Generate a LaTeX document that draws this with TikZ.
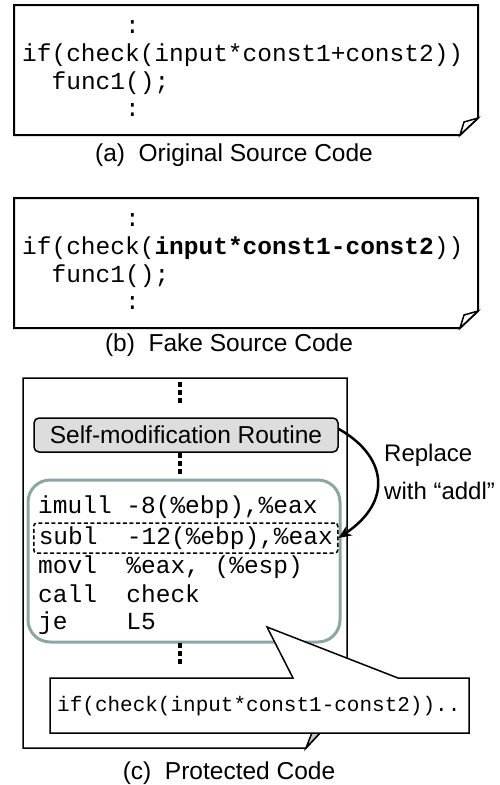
\documentclass[tikz,border=0pt]{standalone}
\usepackage{fontspec}
\setmainfont{Liberation Sans}
\newfontfamily\codefont{Liberation Mono}
\usetikzlibrary{arrows.meta}
\definecolor{tealgray}{RGB}{140,166,168}
\definecolor{routinegray}{RGB}{221,221,221}
\definecolor{foldgray}{RGB}{200,200,200}

\begin{document}
\begin{tikzpicture}[x=1pt,y=-1pt,
    code/.style={font=\codefont\fontsize{24.5}{27.7}\selectfont,inner sep=0pt,anchor=west,align=left},
    caption/.style={font=\fontsize{24.5}{28}\selectfont,inner sep=0pt},
    page/.style={line width=2pt,fill=white},
    dots/.style={line width=4.5pt,dash pattern=on 5pt off 3pt}]
    \useasboundingbox (0,0) rectangle (499,785);

    % (a)
    \draw[page] (14,5) -- (478,5) -- (478,118) -- (460,135) -- (14,135) -- cycle;
    \draw[line width=1.5pt,fill=white] (478,118) -- (464,122) -- (460,135) -- cycle;
    \node[code] (srcA) at (22,69) {\phantom{if(chec}:\\if(check(input*const1+const2))\\\phantom{if}func1();\\\phantom{if(chec}:};
    \node[caption] (capA) at (234,155) {(a)\ \ Original Source Code};

    % (b)
    \draw[page] (14,198) -- (478,198) -- (478,311) -- (460,328) -- (14,328) -- cycle;
    \draw[line width=1.5pt,fill=white] (478,311) -- (464,315) -- (460,328) -- cycle;
    \node[code] (srcB) at (22,262) {\phantom{if(chec}:\\if(check({\bfseries input*const1-const2}))\\\phantom{if}func1();\\\phantom{if(chec}:};
    \node[caption] (capB) at (229,345) {(b)\ \ Fake Source Code};

    % (c)
    \draw[line width=1.5pt,fill=white] (23,378) -- (347,378) -- (347,704) -- (306,748) -- (23,748) -- cycle;
    \draw[line width=1.5pt,fill=foldgray] (347,704) -- (320,712) -- (306,748) -- cycle;
    \draw[dots] (180,382) -- (180,403);
    \node[draw,line width=1.5pt,fill=routinegray,rounded corners=5pt,minimum width=304pt,minimum height=34pt,inner sep=0pt,font=\fontsize{24.5}{28}\selectfont] (routine) at (186,435) {Self-modification Routine};
    \draw[dots] (180,453) -- (180,474);
    \node[draw=tealgray,line width=3pt,rounded corners=22pt,minimum width=312pt,minimum height=162pt] (asm) at (184,561) {};
    \node[code] (imull) at (38,507) {imull -8(\%ebp),\%eax};
    \node[code,draw,line width=1.5pt,dash pattern=on 4pt off 2.5pt,rounded corners=3pt,minimum width=304pt,minimum height=30pt,inner xsep=5pt] (subl) at (33,538) {subl\ \ -12(\%ebp),\%eax};
    \node[code] (movl) at (38,567) {movl\ \ \%eax, (\%esp)};
    \node[code] (call) at (38,594) {call\ \ check};
    \node[code] (je) at (38,623) {je\ \ \ \ L5};
    \draw[dots] (180,643) -- (180,664);

    \draw[line width=1.5pt,fill=white] (50,678) -- (293,678) -- (267,627) -- (398,678) -- (469,678) -- (469,733) -- (50,733) -- cycle;
    \node[code,font=\codefont\fontsize{21}{24}\selectfont] (cond) at (57,706) {if(check(input*const1-const2))..};

    \draw[line width=2.5pt,-{Stealth[length=13pt,width=11pt]}] ([yshift=6pt]routine.east) .. controls (385,455) and (395,500) .. (subl.east);
    \node[font=\fontsize{24}{38}\selectfont,align=left,anchor=west,inner sep=0pt] (replace) at (384,472) {Replace\\with “addl”};
    \node[caption] (capC) at (229,773) {(c)\ \ Protected Code};
\end{tikzpicture}
\end{document}
